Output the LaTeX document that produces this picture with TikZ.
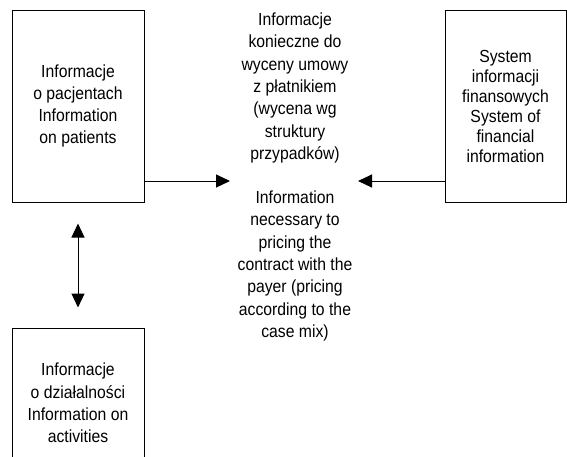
\documentclass[tikz,border=0pt]{standalone}
\usepackage{fontspec}
\setmainfont[FakeStretch=0.9]{Liberation Sans}
\usetikzlibrary{arrows.meta}
\tikzset{
  box/.style={draw, line width=1pt, minimum width=132pt, inner sep=0pt, align=center},
  txt/.style={align=center, inner sep=0pt, font=\fontsize{17.5}{22.3}\selectfont},
  tip/.style={Triangle[length=14pt,width=13pt]},
  conn/.style={line width=1pt, -{Triangle[length=14pt,width=13pt]}},
  dconn/.style={line width=1pt, {Triangle[length=14pt,width=13pt]}-{Triangle[length=14pt,width=13pt]}}
}
\begin{document}
\begin{tikzpicture}[x=1pt,y=-1pt]
\useasboundingbox (0,0) rectangle (567,456);
\clip (0,0) rectangle (567,456);
\node[box, minimum height=192pt, txt] (pat) at (78,106) {Informacje\\o pacjentach\\Information\\on patients};
\node[box, minimum width=121pt, minimum height=192pt, txt, font=\fontsize{17.5}{20}\selectfont] (fin) at (505.5,106) {System\\informacji\\finansowych\\System of\\financial\\information};
\node[box, minimum height=150pt, txt] (act) at (78,403) {Informacje\\o działalności\\Information on\\activities};
\node[txt] (pl) at (295,88) {Informacje\\konieczne do\\wyceny umowy\\z płatnikiem\\(wycena wg\\struktury\\przypadków)};
\node[txt] (en) at (295,266) {Information\\necessary to\\pricing the\\contract with the\\payer (pricing\\according to the\\case mix)};
\coordinate (lt) at (230,181);
\coordinate (rt) at (358,181);
\draw[conn] (pat.east |- lt) -- (lt);
\draw[conn] (fin.west |- rt) -- (rt);
\draw[dconn] ([yshift=-21pt]pat.south) -- ([yshift=20pt]act.north);
\end{tikzpicture}
\end{document}
